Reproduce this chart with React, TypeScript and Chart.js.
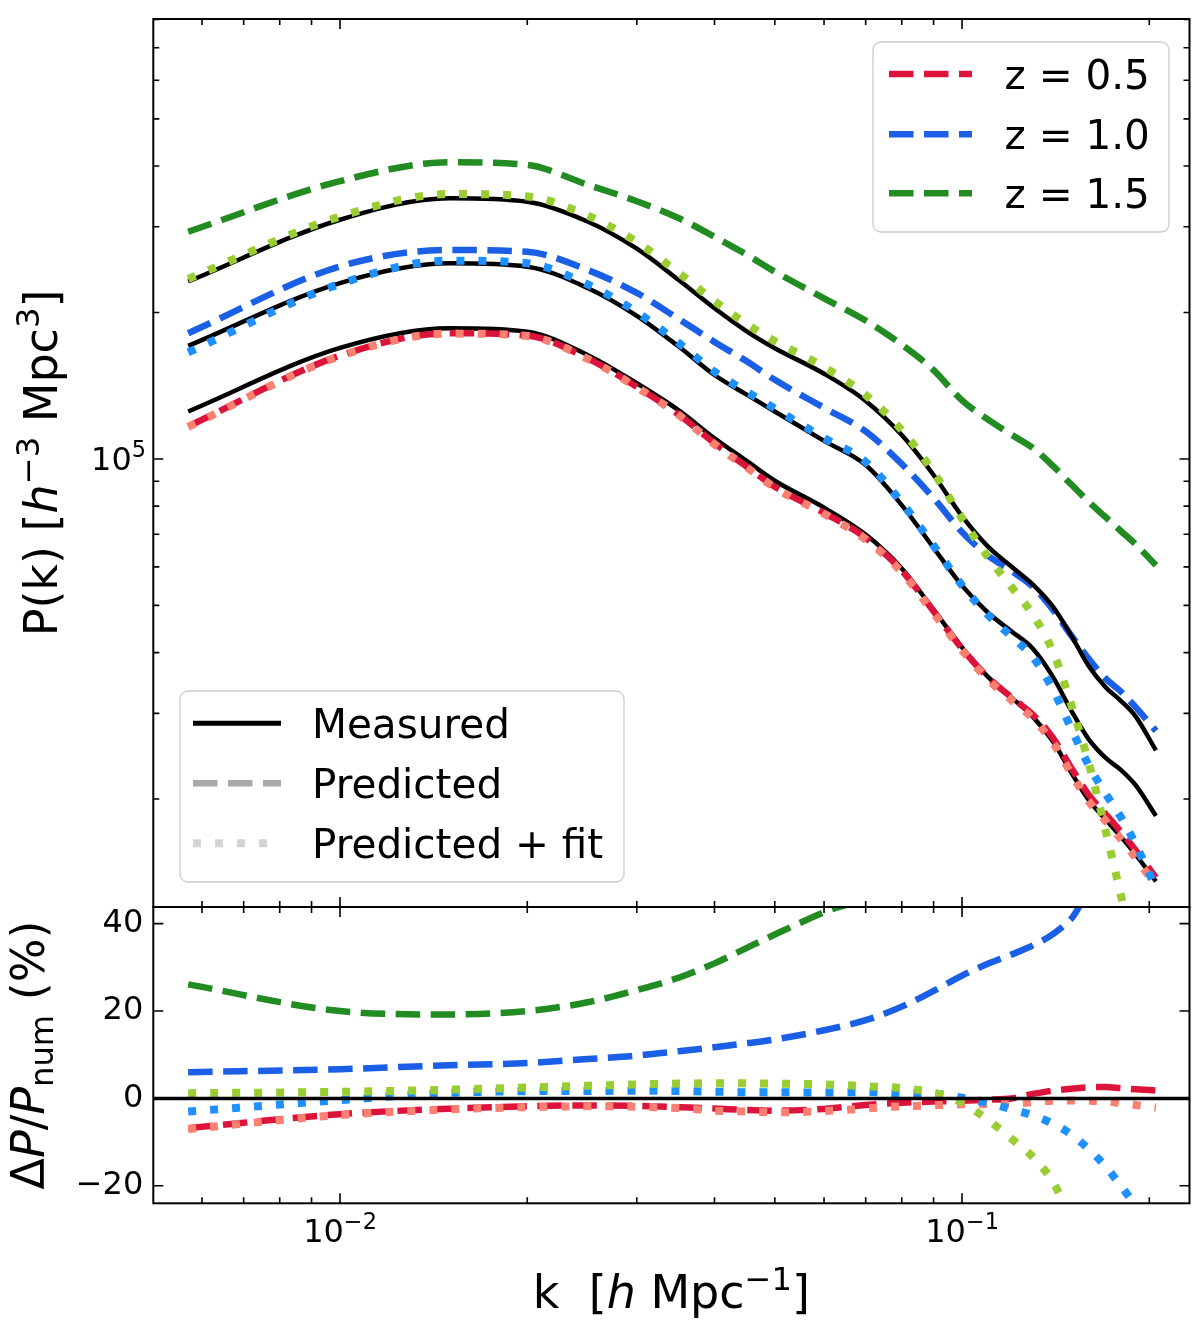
import { useEffect, useRef } from 'react';
import { Chart, registerables } from 'chart.js';

Chart.register(...registerables);

// wavenumbers k [h/Mpc]
const K = [0.0057, 0.01, 0.015, 0.02, 0.025, 0.03, 0.035, 0.04, 0.045, 0.05, 0.06, 0.07, 0.08, 0.09, 0.1,
  0.11, 0.12, 0.13, 0.14, 0.15, 0.16, 0.17, 0.18, 0.19, 0.205];

// P(k) [h^-3 Mpc^3], top panel
const P_MEAS_Z05 = [125200, 169100, 185600, 182600, 163600, 143100, 126000, 110300, 99200, 90200, 79410, 69910, 59570,
  48990, 41000, 35700, 32370, 29510, 26250, 22620, 19860, 18180, 16740, 15400, 13550];
const P_PRED_Z05 = [116690, 163010, 181240, 179310, 160980, 140670, 123480, 107760, 96570, 87670, 77500, 68860, 58970,
  48650, 40770, 35590, 32370, 29810, 26720, 23120, 20370, 18650, 17130, 15720, 13790];
const P_FIT_Z05 = [116440, 162670, 180960, 178950, 160660, 140380, 123230, 107210, 96220, 87310, 77110, 68300, 58500,
  48210, 40450, 35240, 31980, 29260, 26110, 22510, 19750, 18060, 16560, 15170, 13270];
const P_MEAS_Z10 = [170700, 229900, 252400, 248400, 224600, 196900, 170400, 148800, 135700, 125200, 108900, 97200, 80400,
  65650, 54900, 48360, 44260, 40740, 35650, 30330, 26490, 24320, 22960, 21380, 18470];
const P_PRED_Z10 = [181300, 248700, 268800, 266600, 244600, 219400, 194100, 174000, 158900, 145400, 127400, 113900, 97660,
  83080, 70730, 63320, 58890, 54620, 48990, 43280, 38790, 35400, 33270, 30930, 27610];
const P_FIT_Z10 = [165600, 229000, 255600, 252500, 228400, 200300, 173300, 151100, 137600, 127000, 110400, 98600, 81360,
  66370, 54980, 47830, 43180, 39150, 33580, 27810, 23390, 20550, 18370, 16180, 13110];
const P_MEAS_Z15 = [231600, 310200, 343400, 337900, 307600, 270500, 233500, 204000, 183200, 168900, 149700, 131600, 112000,
  92700, 76260, 66100, 60100, 55170, 49720, 43240, 37430, 34000, 31840, 29610, 25180];
const P_PRED_Z15 = [293100, 372300, 407100, 401900, 366200, 338600, 312700, 286200, 263200, 242700, 213900, 192500, 171800,
  152300, 131900, 120600, 112200, 105300, 96740, 88480, 81510, 76000, 71120, 66830, 60460];
const P_FIT_Z15 = [234400, 314900, 350300, 346300, 316500, 279200, 241400, 211000, 189500, 174600, 154500, 135300, 114600,
  93900, 75500, 62900, 54600, 47800, 40200, 31100, 23600, 17300, 12700, 9480, 6300];

// Delta P / P_num (%), bottom panel
const R_PRED_Z05 = [-6.8, -3.6, -2.35, -1.8, -1.6, -1.7, -2.0, -2.3, -2.65, -2.8, -2.4, -1.5, -1.0, -0.7, -0.55, -0.3, 0.0,
  1.0, 1.8, 2.2, 2.55, 2.6, 2.35, 2.1, 1.8];
const R_FIT_Z05 = [-7.0, -3.8, -2.5, -2.0, -1.8, -1.9, -2.2, -2.8, -3.0, -3.2, -2.9, -2.3, -1.8, -1.6, -1.35, -1.3, -1.2,
  -0.85, -0.55, -0.5, -0.55, -0.65, -1.1, -1.5, -2.1];
const R_PRED_Z10 = [6.0, 6.7, 7.6, 8.1, 9.0, 9.8, 10.8, 11.7, 12.6, 13.5, 15.6, 17.9, 21.0, 24.6, 28.1, 30.8, 32.9, 35.0,
  37.6, 41.2, 46.4, 46.0, 46.5, 48.0, 50.0];
const R_FIT_Z10 = [-3.0, -0.4, 1.25, 1.65, 1.7, 1.75, 1.7, 1.55, 1.4, 1.4, 1.35, 1.45, 1.2, 1.1, 0.15, -1.1, -2.45, -3.9,
  -5.8, -8.3, -11.7, -15.5, -20.0, -24.3, -29.0];
const R_PRED_Z15 = [26.1, 20.0, 19.2, 20.0, 22.0, 24.8, 27.6, 30.9, 34.4, 37.5, 42.6, 46.3, 53.4, 64.3, 73.0, 82.0, 87.0,
  91.0, 95.0, 105.0, 118.0, 124.0, 123.0, 126.0, 140.0];
const R_FIT_Z15 = [1.2, 1.5, 2.0, 2.5, 2.9, 3.2, 3.4, 3.45, 3.45, 3.4, 3.2, 2.8, 2.35, 1.3, -1.0, -4.9, -9.2, -13.4, -19.1,
  -28.0, -37.0, -49.0, -60.0, -68.0, -75.0];

const Z_LABELS = ['z = 0.5', 'z = 1.0', 'z = 1.5'];
const STYLE_LABELS = ['Measured', 'Predicted', 'Predicted + fit'];
const X_TICKS = [0.01, 0.1];
const X_TICK_EXP = ['\u22122', '\u22121'];
const Y_TOP_TICKS = [1e5];
const Y_TOP_TICK_EXP = ['5'];
const Y_BOTTOM_TICKS = [-20, 0, 20, 40];

const K_MIN = 0.00501;
const K_MAX = 0.2321;
const P_MIN = 12000;
const P_MAX = 802000;
const R_MIN = -24;
const R_MAX = 43.8;

const FONT = "'DejaVu Sans', sans-serif";
const RED = '#dc143c';
const SALMON = '#fa8072';
const BLUE = '#1a5fe6';
const LIGHTBLUE = '#1e90ff';
const GREEN = '#228b22';
const YGREEN = '#9acd32';

const DASH = [24.5, 10.5];
const DOT = [8, 14];
const W_SOLID = 4.5;
const W_DASH = 6.5;
const W_DOT = 8;
const TICK_SIZE = 32;

type Seg = { t: string; it?: boolean; sup?: boolean; sub?: boolean };

function drawRich(ctx: CanvasRenderingContext2D, segs: Seg[], x: number, y: number, size: number,
  align: 'center' | 'right' = 'center', raise = 0.39) {
  const fontFor = (s: Seg) => `${s.it ? 'italic ' : ''}${s.sup || s.sub ? size * 0.7 : size}px ${FONT}`;
  let w = 0;
  const ws = segs.map((s) => {
    ctx.font = fontFor(s);
    const m = ctx.measureText(s.t).width;
    w += m;
    return m;
  });
  let cx = align === 'center' ? x - w / 2 : x - w;
  ctx.textAlign = 'left';
  ctx.textBaseline = 'alphabetic';
  ctx.fillStyle = '#000';
  segs.forEach((s, i) => {
    ctx.font = fontFor(s);
    const dy = s.sup ? -raise * size : s.sub ? 0.2 * size : 0;
    ctx.fillText(s.t, cx, y + dy);
    cx += ws[i];
  });
}

function logTicks(min: number, max: number) {
  const out: { v: number; major: boolean }[] = [];
  for (let e = Math.floor(Math.log10(min)); e <= Math.ceil(Math.log10(max)); e++) {
    for (let m = 1; m < 10; m++) {
      const v = m * Math.pow(10, e);
      if (v >= min && v <= max) out.push({ v, major: m === 1 });
    }
  }
  return out;
}

function drawFrameAndTicks(chart: any, yTicks: { v: number; major: boolean }[]) {
  const ctx: CanvasRenderingContext2D = chart.ctx;
  const { left, right, top, bottom } = chart.chartArea;
  const xs = chart.scales.x;
  const ys = chart.scales.y;
  ctx.save();
  ctx.strokeStyle = '#000';
  ctx.lineWidth = 1.6;
  ctx.setLineDash([]);
  ctx.beginPath();
  for (const t of logTicks(K_MIN, K_MAX)) {
    const px = xs.getPixelForValue(t.v);
    const len = t.major ? 10 : 6;
    ctx.moveTo(px, bottom);
    ctx.lineTo(px, bottom - len);
    ctx.moveTo(px, top);
    ctx.lineTo(px, top + len);
  }
  for (const t of yTicks) {
    const py = ys.getPixelForValue(t.v);
    const len = t.major ? 10 : 6;
    ctx.moveTo(left, py);
    ctx.lineTo(left + len, py);
    ctx.moveTo(right, py);
    ctx.lineTo(right - len, py);
  }
  ctx.stroke();
  ctx.lineWidth = 2;
  ctx.strokeRect(left, top, right - left, bottom - top);
  ctx.restore();
}

type Handle = { color: string; dash: number[]; width: number };

function drawLegend(ctx: CanvasRenderingContext2D, box: number[], hx: number[], textX: number, rows: number[],
  labels: string[], handles: Handle[]) {
  ctx.save();
  ctx.beginPath();
  ctx.roundRect(box[0], box[1], box[2] - box[0], box[3] - box[1], 8);
  ctx.fillStyle = 'rgba(255,255,255,0.8)';
  ctx.fill();
  ctx.strokeStyle = '#cccccc';
  ctx.lineWidth = 1.3;
  ctx.stroke();
  labels.forEach((lab, i) => {
    const h = handles[i];
    ctx.beginPath();
    ctx.setLineDash(h.dash);
    ctx.lineCap = 'butt';
    ctx.strokeStyle = h.color;
    ctx.lineWidth = h.width;
    ctx.moveTo(hx[0], rows[i]);
    ctx.lineTo(hx[1], rows[i]);
    ctx.stroke();
    ctx.setLineDash([]);
    ctx.fillStyle = '#000';
    ctx.font = `40.5px ${FONT}`;
    ctx.textAlign = 'left';
    ctx.textBaseline = 'alphabetic';
    ctx.fillText(lab, textX, rows[i] + 14.5);
  });
  ctx.restore();
}

const pts = (ys: number[]) => K.map((k, i) => ({ x: k, y: ys[i] }));

const solid = (label: string, data: number[], order: number) => ({
  label, data: pts(data), borderColor: '#000', borderWidth: W_SOLID, borderDash: [], order, clip: 0,
});
const dashed = (label: string, data: number[], color: string, order: number) => ({
  label, data: pts(data), borderColor: color, borderWidth: W_DASH, borderDash: DASH, order, clip: 0,
});
const dotted = (label: string, data: number[], color: string, order: number) => ({
  label, data: pts(data), borderColor: color, borderWidth: W_DOT, borderDash: DOT, order, clip: 0,
});

const common = {
  animation: false as const,
  responsive: false,
  events: [] as any[],
  plugins: { legend: { display: false }, tooltip: { enabled: false } },
  elements: {
    point: { radius: 0 },
    line: { cubicInterpolationMode: 'monotone', borderCapStyle: 'butt', borderJoinStyle: 'round', fill: false },
  },
};

const fixWidth = (s: any) => {
  s.width = 153.3;
  s.paddingTop = 0;
  s.paddingBottom = 0;
};
const fixHeight = (s: any) => {
  s.height = 129.7;
  s.paddingLeft = 0;
  s.paddingRight = 0;
};

const topDecor = {
  id: 'topDecor',
  afterDatasetsDraw(chart: any) {
    const ctx: CanvasRenderingContext2D = chart.ctx;
    drawLegend(ctx, [873, 42, 1169, 232], [889, 972], 1004.5, [74, 134.3, 193.3], Z_LABELS, [
      { color: RED, dash: DASH, width: W_DASH },
      { color: BLUE, dash: DASH, width: W_DASH },
      { color: GREEN, dash: DASH, width: W_DASH },
    ]);
    drawLegend(ctx, [180, 691, 624, 882], [193, 281], 312, [723.3, 783.3, 843.3], STYLE_LABELS, [
      { color: '#000', dash: [], width: 5 },
      { color: '#a9a9a9', dash: DASH, width: W_DASH },
      { color: '#d3d3d3', dash: DOT, width: W_DOT },
    ]);
    drawFrameAndTicks(chart, logTicks(P_MIN, P_MAX));
    const ys = chart.scales.y;
    Y_TOP_TICKS.forEach((v, i) => {
      drawRich(ctx, [{ t: '10' }, { t: Y_TOP_TICK_EXP[i], sup: true }], 146, ys.getPixelForValue(v) + 11.5,
        TICK_SIZE, 'right', 0.42);
    });
    ctx.save();
    ctx.translate(57, 463);
    ctx.rotate(-Math.PI / 2);
    drawRich(ctx, [{ t: 'P(k) [' }, { t: 'h', it: true }, { t: '\u22123', sup: true }, { t: ' Mpc' },
      { t: '3', sup: true }, { t: ']' }], 0, 0, 46);
    ctx.restore();
  },
};

const bottomDecor = {
  id: 'bottomDecor',
  afterDatasetsDraw(chart: any) {
    const ctx: CanvasRenderingContext2D = chart.ctx;
    const { left, right } = chart.chartArea;
    const y0 = chart.scales.y.getPixelForValue(0);
    ctx.save();
    ctx.strokeStyle = '#000';
    ctx.lineWidth = 3.5;
    ctx.beginPath();
    ctx.moveTo(left, y0);
    ctx.lineTo(right, y0);
    ctx.stroke();
    ctx.restore();
    drawFrameAndTicks(chart, Y_BOTTOM_TICKS.map((v) => ({ v, major: true })));
    const xs = chart.scales.x;
    X_TICKS.forEach((v, i) => {
      drawRich(ctx, [{ t: '10' }, { t: X_TICK_EXP[i], sup: true }], xs.getPixelForValue(v), 362, TICK_SIZE,
        'center', 0.42);
    });
    ctx.save();
    drawRich(ctx, [{ t: 'k  [' }, { t: 'h', it: true }, { t: ' Mpc' }, { t: '\u22121', sup: true }, { t: ']' }],
      (left + right) / 2, 428, 46);
    ctx.translate(44, 175);
    ctx.rotate(-Math.PI / 2);
    drawRich(ctx, [{ t: '\u0394' }, { t: 'P', it: true }, { t: '/' }, { t: 'P', it: true }, { t: 'num', sub: true },
      { t: ' (%)' }], 0, 0, 46);
    ctx.restore();
  },
};

export default function App() {
  const topRef = useRef<HTMLCanvasElement>(null);
  const botRef = useRef<HTMLCanvasElement>(null);

  useEffect(() => {
    if (!topRef.current || !botRef.current) return;

    const top = new Chart(topRef.current, {
      type: 'line',
      data: {
        datasets: [
          solid('Measured z=0.5', P_MEAS_Z05, 9),
          dashed('Predicted z=0.5', P_PRED_Z05, RED, 8),
          dotted('Predicted + fit z=0.5', P_FIT_Z05, SALMON, 7),
          solid('Measured z=1.0', P_MEAS_Z10, 6),
          dashed('Predicted z=1.0', P_PRED_Z10, BLUE, 5),
          dotted('Predicted + fit z=1.0', P_FIT_Z10, LIGHTBLUE, 4),
          solid('Measured z=1.5', P_MEAS_Z15, 3),
          dashed('Predicted z=1.5', P_PRED_Z15, GREEN, 2),
          dotted('Predicted + fit z=1.5', P_FIT_Z15, YGREEN, 1),
        ] as any,
      },
      options: {
        ...common,
        layout: { padding: { top: 19, right: 10.5, bottom: 33, left: 0 } },
        scales: {
          x: { type: 'logarithmic', min: K_MIN, max: K_MAX, display: false },
          y: {
            type: 'logarithmic',
            min: P_MIN,
            max: P_MAX,
            afterFit: fixWidth,
            afterBuildTicks: (s: any) => { s.ticks = Y_TOP_TICKS.map((v) => ({ value: v })); },
            ticks: { display: false },
            grid: { display: false, drawTicks: false },
            border: { display: false },
          },
        },
      } as any,
      plugins: [topDecor],
    });

    const bot = new Chart(botRef.current, {
      type: 'line',
      data: {
        datasets: [
          dashed('Predicted z=0.5', R_PRED_Z05, RED, 6),
          dotted('Predicted + fit z=0.5', R_FIT_Z05, SALMON, 5),
          dashed('Predicted z=1.0', R_PRED_Z10, BLUE, 4),
          dotted('Predicted + fit z=1.0', R_FIT_Z10, LIGHTBLUE, 3),
          dashed('Predicted z=1.5', R_PRED_Z15, GREEN, 2),
          dotted('Predicted + fit z=1.5', R_FIT_Z15, YGREEN, 1),
        ] as any,
      },
      options: {
        ...common,
        layout: { padding: { top: 27, right: 10.5, bottom: 0, left: 0 } },
        scales: {
          x: {
            type: 'logarithmic',
            min: K_MIN,
            max: K_MAX,
            afterFit: fixHeight,
            afterBuildTicks: (s: any) => { s.ticks = X_TICKS.map((v) => ({ value: v })); },
            ticks: { display: false },
            grid: { display: false, drawTicks: false },
            border: { display: false },
          },
          y: {
            type: 'linear',
            min: R_MIN,
            max: R_MAX,
            afterFit: fixWidth,
            afterBuildTicks: (s: any) => { s.ticks = Y_BOTTOM_TICKS.map((v) => ({ value: v })); },
            ticks: {
              autoSkip: false,
              padding: 10,
              color: '#000',
              font: { family: FONT, size: TICK_SIZE, lineHeight: 1.0 },
              callback: (v: any) => (v < 0 ? '\u2212' + Math.abs(v) : String(v)),
            },
            grid: { display: false, drawTicks: false },
            border: { display: false },
          },
        },
      } as any,
      plugins: [bottomDecor],
    });

    return () => {
      top.destroy();
      bot.destroy();
    };
  }, []);

  return (
    <div style={{ position: 'absolute', left: 0, top: 0, width: 1200, height: 1333, background: '#fff' }}>
      <canvas ref={topRef} width={1200} height={940} style={{ position: 'absolute', left: 0, top: 0 }} />
      <canvas ref={botRef} width={1200} height={453} style={{ position: 'absolute', left: 0, top: 880 }} />
    </div>
  );
}
